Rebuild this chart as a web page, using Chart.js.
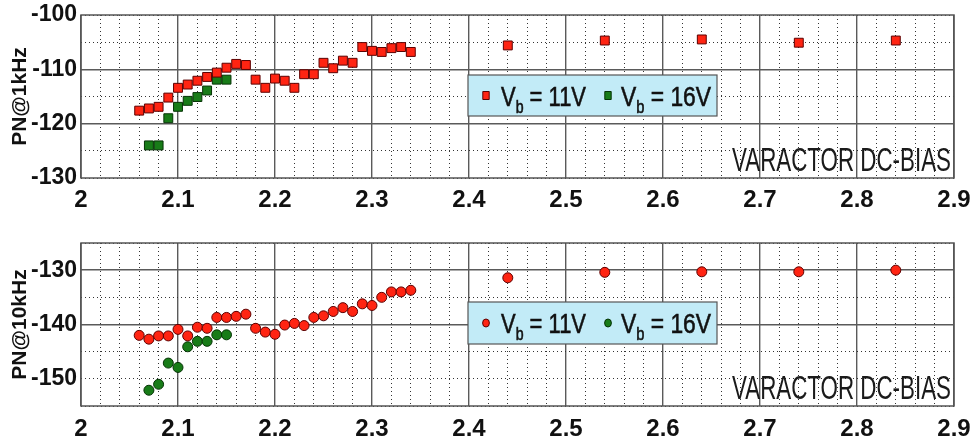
<!DOCTYPE html>
<html>
<head>
<meta charset="utf-8">
<script src="https://cdn.jsdelivr.net/npm/chart.js@4.4.0/dist/chart.umd.min.js"></script>
<style>
    html, body { margin: 0; padding: 0; background: #fff; }
    #wrap { position: relative; width: 971px; height: 438px; }
    #c1 { position: absolute; left: 0; top: 0; }
    #c2 { position: absolute; left: 0; top: 216px; }
</style>
</head>
<body>
<div id="wrap">
    <canvas id="c1" width="971" height="216"></canvas>
    <canvas id="c2" width="971" height="222"></canvas>
</div>
<script>
// x values (varactor bias sweep)
const x11V = [2.06, 2.07, 2.08, 2.09, 2.10, 2.11, 2.12, 2.13, 2.14, 2.15,
              2.16, 2.17, 2.18, 2.19, 2.20, 2.21, 2.22, 2.23, 2.24, 2.25,
              2.26, 2.27, 2.28, 2.29, 2.30, 2.31, 2.32, 2.33, 2.34,
              2.44, 2.54, 2.64, 2.74, 2.84];
const x16V = [2.07, 2.08, 2.09, 2.10, 2.11, 2.12, 2.13, 2.14, 2.15];

// phase noise @1kHz
const pn1k11V = [-117.6, -117.2, -116.9, -115.2, -113.4, -112.8, -112.1, -111.4, -110.6, -109.7,
                 -109.0, -109.2, -111.9, -113.4, -111.7, -112.1, -113.4, -110.9, -110.9, -108.8,
                 -109.8, -108.4, -108.8, -105.9, -106.6, -106.8, -106.1, -105.9, -106.8,
                 -105.6, -104.7, -104.5, -105.1, -104.7];
const pn1k16V = [-124.0, -124.0, -119.0, -116.9, -115.8, -115.1, -113.9, -111.9, -111.9];

// phase noise @10kHz
const pn10k11V = [-142.0, -142.7, -142.1, -142.1, -140.9, -142.1, -140.5, -140.7, -138.7, -138.7,
                  -138.5, -138.1, -140.7, -141.4, -141.8, -140.1, -139.8, -140.2, -138.7, -138.4,
                  -137.6, -136.9, -137.6, -136.2, -136.5, -135.0, -134.0, -134.0, -133.7,
                  -131.4, -130.4, -130.3, -130.3, -130.0];
const pn10k16V = [-152.1, -151.0, -147.1, -147.9, -144.1, -143.1, -143.1, -141.9, -141.9];

// tick labels
const xLabels = [2, 2.1, 2.2, 2.3, 2.4, 2.5, 2.6, 2.7, 2.8, 2.9];
const yLabels1k = [-100, -110, -120, -130];
const yLabels10k = [-130, -140, -150];
const ySolid1k = [-110, -120];
const ySolid10k = [-130, -140];

const seriesNames = ['11V', '16V'];

Chart.defaults.font.family = '"Liberation Sans", Arial, sans-serif';
Chart.defaults.color = '#111';

const RED = '#ff2412', RED_EDGE = '#5c0000';
const GREEN = '#187c18', GREEN_EDGE = '#053305';

function near(list, v) {
    return list.some(l => Math.abs(l - v) < 1e-6);
}

function pts(xs, ys) {
    return xs.map((x, i) => ({ x: x, y: ys[i] }));
}

// draw "V_b = 11V" squeezed to a given width
function drawVb(ctx, x, baseline, value, width) {
    const big = '28px "Liberation Sans", Arial, sans-serif';
    const small = '18px "Liberation Sans", Arial, sans-serif';
    const rest = ' = ' + value;
    ctx.font = big;
    const wV = ctx.measureText('V').width;
    const wr = ctx.measureText(rest).width;
    ctx.font = small;
    const wb = ctx.measureText('b').width;
    const sx = width / (wV + wb + wr);
    ctx.save();
    ctx.translate(x, baseline);
    ctx.scale(sx, 1);
    ctx.fillStyle = '#111';
    ctx.strokeStyle = '#111';
    ctx.lineWidth = 0.6;
    ctx.textAlign = 'left';
    ctx.textBaseline = 'alphabetic';
    ctx.font = big;
    ctx.fillText('V', 0, 0);
    ctx.strokeText('V', 0, 0);
    ctx.font = small;
    ctx.fillText('b', wV, 7);
    ctx.strokeText('b', wV, 7);
    ctx.font = big;
    ctx.fillText(rest, wV + wb, 0);
    ctx.strokeText(rest, wV + wb, 0);
    ctx.restore();
}

function drawMarker(ctx, style, x, y, fill, edge, r) {
    ctx.save();
    ctx.fillStyle = fill;
    ctx.strokeStyle = edge;
    ctx.lineWidth = 1;
    ctx.beginPath();
    if (style === 'rect') {
        ctx.rect(x - r * 0.8, y - r, r * 1.6, r * 2);
    } else {
        ctx.ellipse(x, y, r * 0.85, r, 0, 0, Math.PI * 2);
    }
    ctx.fill();
    ctx.stroke();
    ctx.restore();
}

// frame, legend box and caption
const decor = {
    id: 'decor',
    afterDatasetsDraw(chart, args, opts) {
        const ctx = chart.ctx;
        const a = chart.chartArea;

        // frame
        ctx.save();
        ctx.strokeStyle = '#555';
        ctx.lineWidth = 1.5;
        ctx.strokeRect(a.left, a.top, a.right - a.left, a.bottom - a.top);
        ctx.restore();

        // caption
        ctx.save();
        ctx.font = '33px "Liberation Sans", Arial, sans-serif';
        const cap = 'VARACTOR DC-BIAS';
        const w = ctx.measureText(cap).width;
        ctx.translate(a.right - 3 - opts.captionWidth, a.bottom - 7);
        ctx.scale(opts.captionWidth / w, 1);
        ctx.fillStyle = '#1a1a1a';
        ctx.textBaseline = 'alphabetic';
        ctx.fillText(cap, 0, 0);
        ctx.restore();

        // legend
        const b = opts.box;
        ctx.save();
        ctx.fillStyle = '#c2ebf7';
        ctx.fillRect(b.x, b.y, b.w, b.h);
        ctx.strokeStyle = '#555';
        ctx.lineWidth = 1.2;
        ctx.strokeRect(b.x, b.y, b.w, b.h);
        ctx.restore();
        const cy = b.y + b.h / 2;
        drawMarker(ctx, opts.pointStyle, b.x + 18, cy, RED, RED_EDGE, 4);
        drawVb(ctx, b.x + 33, cy + 10, seriesNames[0], 85);
        drawMarker(ctx, opts.pointStyle, b.x + 140, cy, GREEN, GREEN_EDGE, 4);
        drawVb(ctx, b.x + 153, cy + 10, seriesNames[1], 90);
    }
};

function makeChart(id, cfg) {
    const H = document.getElementById(id).height;
    return new Chart(document.getElementById(id), {
        type: 'scatter',
        data: {
            datasets: [
                {
                    label: 'Vb = ' + seriesNames[0],
                    data: cfg.red,
                    pointStyle: cfg.pointStyle,
                    pointRadius: cfg.radius,
                    pointHoverRadius: cfg.radius,
                    backgroundColor: RED,
                    borderColor: RED_EDGE,
                    borderWidth: 1
                },
                {
                    label: 'Vb = ' + seriesNames[1],
                    data: cfg.green,
                    pointStyle: cfg.pointStyle,
                    pointRadius: cfg.radius,
                    pointHoverRadius: cfg.radius,
                    backgroundColor: GREEN,
                    borderColor: GREEN_EDGE,
                    borderWidth: 1
                }
            ]
        },
        options: {
            responsive: false,
            animation: false,
            devicePixelRatio: 1,
            layout: { autoPadding: false, padding: { top: cfg.top, right: 17, left: 0, bottom: 0 } },
            plugins: {
                legend: { display: false },
                tooltip: { enabled: false },
                decor: { box: cfg.box, pointStyle: cfg.pointStyle, captionWidth: 219 }
            },
            scales: {
                x: {
                    type: 'linear',
                    min: 2,
                    max: 2.9,
                    afterFit: (s) => {
                        s.height = H - cfg.bottom;
                        s.paddingLeft = 0;
                        s.paddingRight = 0;
                    },
                    ticks: {
                        stepSize: 0.02,
                        maxTicksLimit: 100,
                        autoSkip: false,
                        maxRotation: 0,
                        minRotation: 0,
                        padding: cfg.xPad,
                        font: { size: 24, weight: 'bold' },
                        callback: (v) => near(xLabels, v) ? String(+v.toFixed(1)) : ''
                    },
                    grid: {
                        drawTicks: false,
                        color: (c) => c.tick && near(xLabels, c.tick.value) ? '#5a5a5a' : '#333',
                        lineWidth: (c) => c.tick && near(xLabels, c.tick.value) ? 1.4 : 1
                    },
                    border: {
                        display: false,
                        dash: (c) => c.tick && !near(xLabels, c.tick.value) ? [1, 3] : []
                    }
                },
                y: {
                    min: cfg.ymin,
                    max: cfg.ymax,
                    afterFit: (s) => {
                        s.width = 81;
                        s.paddingTop = 0;
                        s.paddingBottom = 0;
                    },
                    ticks: {
                        stepSize: 5,
                        maxTicksLimit: 100,
                        autoSkip: false,
                        padding: 4,
                        font: { size: 23, weight: 'bold' },
                        callback: (v) => near(cfg.yLabels, v) ? String(v) : ''
                    },
                    title: {
                        display: true,
                        text: cfg.title,
                        font: { size: 21, weight: 'bold' },
                        padding: { top: 8, bottom: 0 }
                    },
                    grid: {
                        drawTicks: false,
                        color: (c) => c.tick && near(cfg.ySolid, c.tick.value) ? '#5a5a5a' : '#333',
                        lineWidth: (c) => c.tick && near(cfg.ySolid, c.tick.value) ? 1.4 : 1
                    },
                    border: {
                        display: false,
                        dash: (c) => c.tick && !near(cfg.ySolid, c.tick.value) ? [1, 3] : []
                    }
                }
            }
        },
        plugins: [decor]
    });
}

makeChart('c1', {
    red: pts(x11V, pn1k11V),
    green: pts(x16V, pn1k16V),
    pointStyle: 'rect',
    radius: 6.3,
    top: 15,
    bottom: 178,
    xPad: 8,
    ymin: -130,
    ymax: -100,
    yLabels: yLabels1k,
    ySolid: ySolid1k,
    title: 'PN@1kHz',
    box: { x: 468, y: 75, w: 249, h: 41 }
});

makeChart('c2', {
    red: pts(x11V, pn10k11V),
    green: pts(x16V, pn10k16V),
    pointStyle: 'circle',
    radius: 5,
    top: 27,
    bottom: 190,
    xPad: 9,
    ymin: -155,
    ymax: -125,
    yLabels: yLabels10k,
    ySolid: ySolid10k,
    title: 'PN@10kHz',
    box: { x: 468, y: 86, w: 249, h: 42 }
});
</script>
</body>
</html>
